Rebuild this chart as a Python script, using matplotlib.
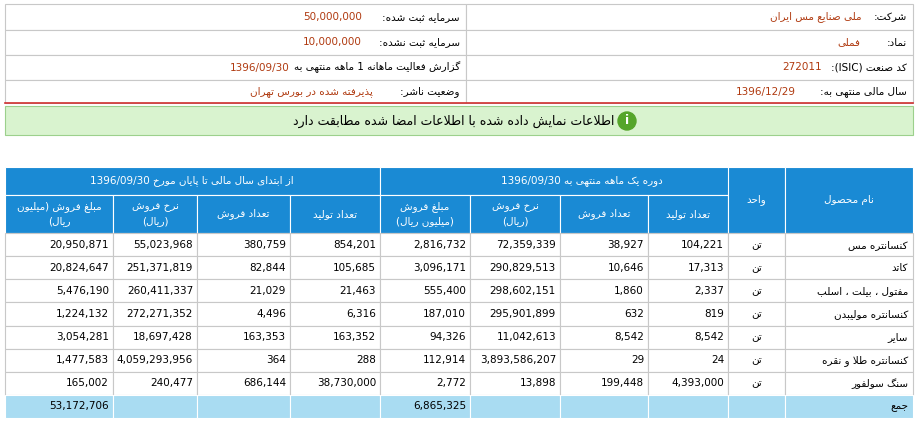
import matplotlib
matplotlib.use("Agg")
import matplotlib.pyplot as plt
from matplotlib.patches import Rectangle, Circle

# ---------------- data ----------------
info_right_labels = ["شرکت:", "نماد:", "کد صنعت (ISIC):", "سال مالی منتهی به:"]
info_right_values = ["ملی صنایع مس ایران", "فملی", "272011", "1396/12/29"]
info_left_labels = ["سرمایه ثبت شده:", "سرمایه ثبت نشده:", "گزارش فعالیت ماهانه 1 ماهه منتهی به", "وضعیت ناشر:"]
info_left_values = ["50,000,000", "10,000,000", "1396/09/30", "پذیرفته شده در بورس تهران"]
notice = "اطلاعات نمایش داده شده با اطلاعات امضا شده مطابقت دارد"
group_left = "از ابتدای سال مالی تا پایان مورخ 1396/09/30"
group_right = "دوره یک ماهه منتهی به 1396/09/30"
col_headers = ["مبلغ فروش (میلیون\nریال)", "نرخ فروش\n(ریال)", "تعداد فروش", "تعداد تولید",
               "مبلغ فروش\n(میلیون ریال)", "نرخ فروش\n(ریال)", "تعداد فروش", "تعداد تولید", "واحد", "نام محصول"]
products = ["کنسانتره مس", "کاتد", "مفتول ، بیلت ، اسلب", "کنسانتره مولیبدن", "سایر", "کنسانتره طلا و نقره", "سنگ سولفور"]
units = ["تن"] * 7
ytd_amount = ["20,950,871", "20,824,647", "5,476,190", "1,224,132", "3,054,281", "1,477,583", "165,002"]
ytd_rate = ["55,023,968", "251,371,819", "260,411,337", "272,271,352", "18,697,428", "4,059,293,956", "240,477"]
ytd_sold = ["380,759", "82,844", "21,029", "4,496", "163,353", "364", "686,144"]
ytd_prod = ["854,201", "105,685", "21,463", "6,316", "163,352", "288", "38,730,000"]
m_amount = ["2,816,732", "3,096,171", "555,400", "187,010", "94,326", "112,914", "2,772"]
m_rate = ["72,359,339", "290,829,513", "298,602,151", "295,901,899", "11,042,613", "3,893,586,207", "13,898"]
m_sold = ["38,927", "10,646", "1,860", "632", "8,542", "29", "199,448"]
m_prod = ["104,221", "17,313", "2,337", "819", "8,542", "24", "4,393,000"]
total_label = "جمع"
total_ytd = "53,172,706"
total_m = "6,865,325"

# ------------- minimal Arabic/Persian shaping -------------
F = {  # iso, fin, ini, med
 '\u0627': (0xFE8D, 0xFE8E, None, None), '\u0622': (0xFE81, 0xFE82, None, None),
 '\u0623': (0xFE83, 0xFE84, None, None),
 '\u0628': (0xFE8F, 0xFE90, 0xFE91, 0xFE92), '\u067E': (0xFB56, 0xFB57, 0xFB58, 0xFB59),
 '\u062A': (0xFE95, 0xFE96, 0xFE97, 0xFE98), '\u062B': (0xFE99, 0xFE9A, 0xFE9B, 0xFE9C),
 '\u062C': (0xFE9D, 0xFE9E, 0xFE9F, 0xFEA0), '\u0686': (0xFB7A, 0xFB7B, 0xFB7C, 0xFB7D),
 '\u062D': (0xFEA1, 0xFEA2, 0xFEA3, 0xFEA4), '\u062E': (0xFEA5, 0xFEA6, 0xFEA7, 0xFEA8),
 '\u062F': (0xFEA9, 0xFEAA, None, None), '\u0630': (0xFEAB, 0xFEAC, None, None),
 '\u0631': (0xFEAD, 0xFEAE, None, None), '\u0632': (0xFEAF, 0xFEB0, None, None),
 '\u0698': (0xFB8A, 0xFB8B, None, None),
 '\u0633': (0xFEB1, 0xFEB2, 0xFEB3, 0xFEB4), '\u0634': (0xFEB5, 0xFEB6, 0xFEB7, 0xFEB8),
 '\u0635': (0xFEB9, 0xFEBA, 0xFEBB, 0xFEBC), '\u0636': (0xFEBD, 0xFEBE, 0xFEBF, 0xFEC0),
 '\u0637': (0xFEC1, 0xFEC2, 0xFEC3, 0xFEC4), '\u0638': (0xFEC5, 0xFEC6, 0xFEC7, 0xFEC8),
 '\u0639': (0xFEC9, 0xFECA, 0xFECB, 0xFECC), '\u063A': (0xFECD, 0xFECE, 0xFECF, 0xFED0),
 '\u0641': (0xFED1, 0xFED2, 0xFED3, 0xFED4), '\u0642': (0xFED5, 0xFED6, 0xFED7, 0xFED8),
 '\u06A9': (0xFB8E, 0xFB8F, 0xFB90, 0xFB91), '\u0643': (0xFED9, 0xFEDA, 0xFEDB, 0xFEDC),
 '\u06AF': (0xFB92, 0xFB93, 0xFB94, 0xFB95),
 '\u0644': (0xFEDD, 0xFEDE, 0xFEDF, 0xFEE0), '\u0645': (0xFEE1, 0xFEE2, 0xFEE3, 0xFEE4),
 '\u0646': (0xFEE5, 0xFEE6, 0xFEE7, 0xFEE8), '\u0647': (0xFEE9, 0xFEEA, 0xFEEB, 0xFEEC),
 '\u0648': (0xFEED, 0xFEEE, None, None),
 '\u06CC': (0xFBFC, 0xFBFD, 0xFBFE, 0xFBFF), '\u064A': (0xFEF1, 0xFEF2, 0xFEF3, 0xFEF4),
}
LTR = set("0123456789ABCDEFGHIJKLMNOPQRSTUVWXYZabcdefghijklmnopqrstuvwxyz,/.")
MIRROR = {'(': ')', ')': '('}

def shape_run(s):
    chars = list(s)
    n = len(chars)
    res = []
    for i, c in enumerate(chars):
        if c not in F:
            res.append(c); continue
        prev = chars[i-1] if i > 0 else None
        nxt = chars[i+1] if i + 1 < n else None
        jp = prev in F and F[prev][2] is not None
        jn = nxt in F and F[c][2] is not None
        iso, fin, ini, med = F[c]
        if jp and jn: g = med
        elif jp: g = fin
        elif jn: g = ini
        else: g = iso
        res.append(chr(g))
    txt = "".join(res)
    txt = txt.replace('\uFEDF\uFE8E', '\uFEFB').replace('\uFEE0\uFE8E', '\uFEFC')
    txt = txt.replace('\u200c', '')
    return "".join(MIRROR.get(c, c) for c in reversed(txt))

def fa(s):
    if not any(c in F for c in s):
        return s
    lines = []
    for line in s.split("\n"):
        runs = []
        cur, cur_ltr = "", None
        for c in line:
            l = c in LTR
            if cur_ltr is None or l == cur_ltr:
                cur += c
            else:
                runs.append((cur, cur_ltr)); cur = c
            cur_ltr = l
        if cur: runs.append((cur, cur_ltr))
        lines.append("".join(r if l else shape_run(r) for r, l in reversed(runs)))
    return "\n".join(lines)

# ---------------- drawing ----------------
plt.rcParams['font.family'] = ['DejaVu Sans']
fig = plt.figure(figsize=(9.18, 4.23), dpi=100)
ax = fig.add_axes([0, 0, 1, 1])
ax.set_xlim(0, 918); ax.set_ylim(423, 0); ax.axis('off')
FS = 7.5
BR = '#b03a10'
GRID = '#c8c8c8'

def rect(x0, y0, x1, y1, fc='white', ec=GRID, lw=0.8):
    ax.add_patch(Rectangle((x0, y0), x1 - x0, y1 - y0, facecolor=fc, edgecolor=ec, lw=lw))

rows_y = [4, 30, 55, 80, 103]
right_val_x = [862, 860, 822, 796]
left_val_x = [362, 362, 290, 373]
for r in range(4):
    y0, y1 = rows_y[r], rows_y[r+1]
    rect(5, y0, 466, y1); rect(466, y0, 913, y1)
    ym = (y0 + y1) / 2
    ax.text(907, ym, fa(info_right_labels[r]), ha='right', va='center', fontsize=FS)
    ax.text(right_val_x[r], ym, fa(info_right_values[r]), ha='right', va='center', fontsize=FS, color=BR)
    ax.text(460, ym, fa(info_left_labels[r]), ha='right', va='center', fontsize=FS)
    ax.text(left_val_x[r], ym, fa(info_left_values[r]), ha='right', va='center', fontsize=FS, color=BR)
ax.plot([5, 913], [103, 103], color='#d03030', lw=1.2)

rect(5, 106, 913, 135, fc='#d9f3cf', ec='#9cd08c')
ax.add_patch(Circle((627, 121), 9, color='#55a52a'))
ax.text(627, 121, 'i', color='white', ha='center', va='center', fontsize=9, fontweight='bold')
ax.text(614, 121, fa(notice), ha='right', va='center', fontsize=9)

xs = [5, 113, 197, 290, 380, 470, 560, 648, 728, 785, 913]
BLUE = '#1a8ad4'
hy0, hy1, hy2 = 167, 195, 233
rect(5, hy0, 380, hy1, fc=BLUE, ec='white')
rect(380, hy0, 785, hy1, fc=BLUE, ec='white')
ax.text(192, 181, fa(group_left), ha='center', va='center', fontsize=FS, color='white')
ax.text(582, 181, fa(group_right), ha='center', va='center', fontsize=FS, color='white')
for i in range(10):
    top = hy0 if i >= 8 else hy1
    rect(xs[i], top, xs[i+1], hy2, fc=BLUE, ec='white')
    ax.text((xs[i] + xs[i+1]) / 2, (top + hy2) / 2, fa(col_headers[i]), ha='center', va='center',
            fontsize=FS, color='white', linespacing=1.5)

cols = [ytd_amount, ytd_rate, ytd_sold, ytd_prod, m_amount, m_rate, m_sold, m_prod]
rh = (395 - hy2) / len(products)
for r in range(len(products)):
    y0 = hy2 + r * rh; y1 = y0 + rh; ym = (y0 + y1) / 2
    for i in range(10):
        rect(xs[i], y0, xs[i+1], y1)
    for i, c in enumerate(cols):
        ax.text(xs[i+1] - 4, ym, c[r], ha='right', va='center', fontsize=FS)
    ax.text((xs[8] + xs[9]) / 2, ym, fa(units[r]), ha='center', va='center', fontsize=FS)
    ax.text(908, ym, fa(products[r]), ha='right', va='center', fontsize=FS)

SUM = '#a9dcf2'
y0, y1 = 395, 418
for i in range(10):
    rect(xs[i], y0, xs[i+1], y1, fc=SUM, ec='white')
ym = (y0 + y1) / 2
ax.text(xs[1] - 4, ym, total_ytd, ha='right', va='center', fontsize=FS)
ax.text(xs[5] - 4, ym, total_m, ha='right', va='center', fontsize=FS)
ax.text(908, ym, fa(total_label), ha='right', va='center', fontsize=FS)

fig.savefig('out.png', dpi=100)
